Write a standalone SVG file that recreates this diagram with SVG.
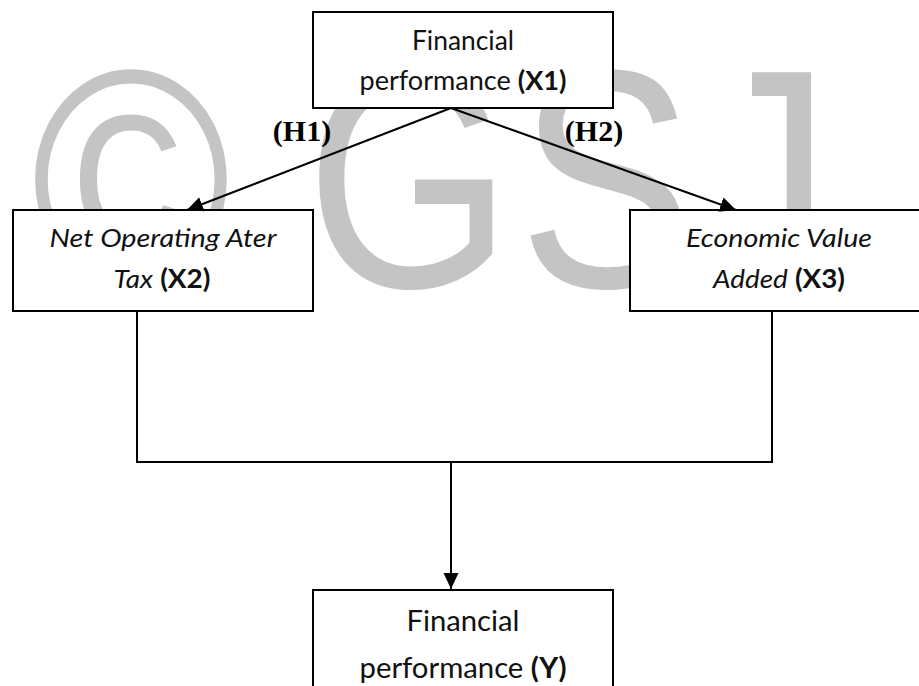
<svg xmlns="http://www.w3.org/2000/svg" width="919" height="686" viewBox="0 0 919 686">
  <style>
    .wm { font-family: "Liberation Sans", Arial, sans-serif; font-size: 312px; fill: #c4c4c4; text-anchor: middle; }
    .box { fill: #ffffff; stroke: #000000; stroke-width: 2; }
    .t { font-family: Lato, "Open Sans", sans-serif; font-size: 26px; fill: #111111; text-anchor: middle; }
    .tb { font-size: 28px; }
    .b { font-weight: bold; font-style: normal; }
    .i { font-style: italic; }
    .h { font-family: "Liberation Serif", "Times New Roman", serif; font-size: 30px; font-weight: bold; fill: #000000; text-anchor: middle; }
    .ln { fill: none; stroke: #000000; stroke-width: 2; }
  </style>
  <defs>
    <marker id="arr" markerUnits="userSpaceOnUse" markerWidth="17" markerHeight="17" refX="16" refY="8.5" orient="auto">
      <path d="M0,1 L16,8.5 L0,16 z" fill="#000000"/>
    </marker>
  </defs>
  <rect x="0" y="0" width="919" height="686" fill="#ffffff"/>
  <g id="watermark">
    <text class="wm" transform="translate(131,287) scale(0.87,1)">©</text>
    <text class="wm" transform="translate(409,287) scale(0.85,1)">G</text>
    <text class="wm" transform="translate(606,287) scale(0.84,1)">S</text>
    <text class="wm" transform="translate(765,287) scale(0.84,1)">J</text>
  </g>
  <g id="x1">
    <rect class="box" x="313" y="12" width="300" height="96"/>
    <text class="t" x="463" y="50" textLength="102" lengthAdjust="spacingAndGlyphs">Financial</text>
    <text class="t" x="463" y="90" textLength="207" lengthAdjust="spacingAndGlyphs">performance <tspan class="b">(X1)</tspan></text>
  </g>
  <g id="x2">
    <rect class="box" x="13" y="210" width="300" height="101"/>
    <text class="t i" x="163" y="247" textLength="227" lengthAdjust="spacingAndGlyphs">Net Operating Ater</text>
    <text class="t" x="162" y="288" textLength="97" lengthAdjust="spacingAndGlyphs"><tspan class="i">Tax</tspan> <tspan class="b">(X2)</tspan></text>
  </g>
  <g id="x3">
    <rect class="box" x="630" y="210" width="300" height="101"/>
    <text class="t i" x="779" y="247" textLength="186" lengthAdjust="spacingAndGlyphs">Economic Value</text>
    <text class="t" x="779" y="288" textLength="132" lengthAdjust="spacingAndGlyphs"><tspan class="i">Added</tspan> <tspan class="b">(X3)</tspan></text>
  </g>
  <g id="y">
    <rect class="box" x="313" y="590" width="300" height="110"/>
    <text class="t tb" x="463" y="631" textLength="113" lengthAdjust="spacingAndGlyphs">Financial</text>
    <text class="t tb" x="463" y="678" textLength="207" lengthAdjust="spacingAndGlyphs">performance <tspan class="b">(Y)</tspan></text>
  </g>
  <g id="connectors">
    <line class="ln" x1="451" y1="108" x2="187" y2="210" marker-end="url(#arr)"/>
    <line class="ln" x1="451" y1="108" x2="736" y2="210" marker-end="url(#arr)"/>
    <polyline class="ln" points="137,311 137,462 772,462 772,311"/>
    <line class="ln" x1="451" y1="462" x2="451" y2="589" marker-end="url(#arr)"/>
  </g>
  <g id="labels">
    <text class="h" x="302" y="141">(H1)</text>
    <text class="h" x="594" y="141">(H2)</text>
  </g>
</svg>
